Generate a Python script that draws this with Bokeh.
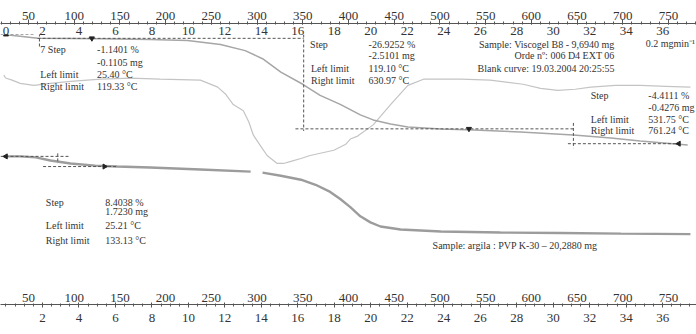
import math
from bokeh.plotting import figure
from bokeh.models import Range1d, LinearAxis, FixedTicker, Label, ColumnDataSource
from bokeh.embed import file_html
from bokeh.resources import INLINE

nan = float("nan")

# ---- TGA, Viscogel B8: sample temperature (°C) and residual mass (%)
b8_temp = [25, 41, 60, 129, 183, 224, 260, 287, 306, 326, 350, 369, 391, 413,
           427, 446, 465, 501, 537, 588, 646, 687, 719, 771]
b8_mass = [99.9, 99.5, 98.9, 98.7, 98.5, 98.2, 97.0, 95.2, 92.8, 88.8, 85.2, 81.9,
           79.2, 76.1, 74.6, 73.4, 72.5, 71.9, 71.6, 71.0, 70.1, 69.2, 68.3, 67.1]

# ---- DTG, Viscogel B8: mass change rate (mg/min)
dtg_temp = [23, 25, 32, 41, 56, 74, 96, 129, 162, 194, 238, 257, 266, 274, 285,
            291, 296, 304, 311, 322, 329, 337, 348, 358, 384, 397, 402, 410, 427,
            446, 465, 482, 501, 523, 555, 591, 610, 629, 648, 665, 692, 719, 747, 774]
dtg_rate = [0.007, -0.003, -0.010, -0.021, -0.028, -0.021, -0.014, -0.007, -0.003,
            -0.007, -0.010, -0.034, -0.059, -0.093, -0.114, -0.152, -0.197, -0.234,
            -0.266, -0.293, -0.293, -0.286, -0.276, -0.266, -0.248, -0.228, -0.210,
            -0.200, -0.162, -0.093, -0.028, -0.007, -0.007, -0.007, -0.010, -0.024,
            -0.038, -0.045, -0.041, -0.034, -0.028, -0.028, -0.031, -0.034]

# ---- TGA, argila : PVP K-30 (the nan breaks the trace where the record is missing)
arg_temp = [25, 41, 58, 74, 96, 123, 147, 183, 238, 293, nan, 306, 326, 348, 364,
            380, 391, 402, 413, 424, 435, 457, 501, 566, 632, 698, 774]
arg_mass = [100.0, 100.0, 99.2, 96.6, 94.1, 92.4, 91.6, 90.8, 89.1, 87.4, nan, 86.6,
            84.0, 80.7, 76.5, 70.6, 64.7, 58.0, 50.4, 45.4, 42.0, 39.5, 37.8, 37.0,
            36.6, 36.1, 35.7]

# ---- evaluated steps
b8_step_pct = [-1.1401, -26.9252, -4.4111]
b8_step_mg = [-0.1105, -2.5101, -0.4276]
b8_left = [25.40, 119.10, 531.75]
b8_right = [119.33, 630.97, 761.24]
b8_step_mid = [62, 351, 646]          # where each step's vertical construction line sits

arg_step_pct = 8.4038
arg_step_mg = 1.7230
arg_left = 25.21
arg_right = 133.13
arg_step_mid = 82

# ---- axis ticks
temp_ticks = list(range(50, 751, 50))
temp_minor = list(range(20, 781, 10))
time_ticks_top = list(range(0, 37, 2))
time_ticks_bottom = list(range(2, 37, 2))
time_minor = [i * 0.5 for i in range(0, 76)]

# ---- layout of the canvas
W, H = 696, 334
FRAME_TOP, FRAME_BOTTOM = 38, 292
DEG_PER_PX = 1 / 0.9143
T_LEFT = 19.4
T_RIGHT = T_LEFT + W * DEG_PER_PX
T_START, HEAT_RATE = 25.4, 19.95      # °C at t = 0, K/min


def vertical_range(ref_value, ref_row, px_per_unit):
    """Range whose value ref_value sits on canvas row ref_row."""
    start = ref_value - (FRAME_BOTTOM - ref_row) / px_per_unit
    end = ref_value + (ref_row - FRAME_TOP) / px_per_unit
    return Range1d(start, end)


SERIF = "Liberation Serif"
INK = "#333333"

p = figure(width=W, height=H, output_backend="svg", toolbar_location=None,
           x_range=Range1d(T_LEFT, T_RIGHT),
           y_range=vertical_range(100, 38, 3.31),
           x_axis_location=None, y_axis_location=None,
           min_border_left=0, min_border_right=0,
           min_border_top=0, min_border_bottom=H - FRAME_BOTTOM,
           outline_line_color=None, background_fill_color="white")
p.extra_x_ranges = {"time": Range1d((T_LEFT - T_START) / HEAT_RATE,
                                    (T_RIGHT - T_START) / HEAT_RATE)}
p.extra_y_ranges = {"dtg": vertical_range(0.0, 80, 290),
                    "arg": vertical_range(100, 158, 1.19)}
for g in p.grid:
    g.visible = False


def axis(**kw):
    base = dict(major_label_text_font=SERIF, major_label_text_font_size="13px",
                major_label_text_color=INK, major_label_standoff=0,
                axis_line_color="#555555", major_tick_line_color="#555555",
                minor_tick_line_color="#555555")
    base.update(kw)
    return LinearAxis(**base)


bare = dict(axis_line_color=None, major_tick_line_color=None, minor_tick_line_color=None,
            major_tick_in=0, major_tick_out=0, minor_tick_in=0, minor_tick_out=0)

# top: time labels next to the plot, temperature scale above them;
# the blank title of the temperature axis leaves a margin along the top edge
p.add_layout(axis(x_range_name="time", ticker=FixedTicker(ticks=time_ticks_top), **bare), "above")
p.add_layout(axis(ticker=FixedTicker(ticks=temp_ticks, minor_ticks=temp_minor),
                  major_tick_out=4, major_tick_in=1, minor_tick_out=2, minor_tick_in=1,
                  axis_label=" ", axis_label_text_font_size="4px", axis_label_standoff=0),
             "above")
# bottom: temperature labels above the line, time labels below it
p.add_layout(axis(ticker=FixedTicker(ticks=temp_ticks), major_label_standoff=1, **bare), "below")
p.add_layout(axis(x_range_name="time", ticker=FixedTicker(ticks=time_ticks_bottom, minor_ticks=time_minor),
                  major_tick_out=3, major_tick_in=2, minor_tick_out=2, minor_tick_in=1,
                  major_label_standoff=6), "below")

# ---- curves
p.line(dtg_temp, dtg_rate, y_range_name="dtg", line_color="#c4c4c4", line_width=1.2)
p.line(b8_temp, b8_mass, line_color="#a6a6a6", line_width=1.5)
p.line(arg_temp, arg_mass, y_range_name="arg", line_color="#9c9c9c", line_width=2.4)

# ---- step construction lines
lv = [100.0]
for s in b8_step_pct:
    lv.append(lv[-1] + s)
dash = dict(line_color="#555555", line_width=1, line_dash="3 2")
b8_seg = ColumnDataSource(dict(
    x0=[T_LEFT, b8_step_mid[0], 60, b8_step_mid[1], 342, b8_step_mid[2], 640],
    y0=[lv[0], 100.3, lv[1], 101.5, lv[2], 73.7, lv[3]],
    x1=[56, b8_step_mid[0], b8_step_mid[1], b8_step_mid[1], b8_step_mid[2], b8_step_mid[2], 760],
    y1=[lv[0], 96.4, lv[1], 71.3, lv[2], 66.2, lv[3]],
))
p.segment("x0", "y0", "x1", "y1", source=b8_seg, **dash)

arg_lv = [100.0, 100.0 - arg_step_pct]
arg_seg = ColumnDataSource(dict(
    x0=[T_LEFT, arg_step_mid, 66],
    y0=[arg_lv[0], 102.5, arg_lv[1]],
    x1=[94, arg_step_mid, 148],
    y1=[arg_lv[0], 94.1, arg_lv[1]],
))
p.segment("x0", "y0", "x1", "y1", source=arg_seg, y_range_name="arg", **dash)

# limit markers
p.scatter([b8_left[0], b8_right[0], b8_left[2], b8_right[2]], [lv[0], lv[1], lv[2], lv[3]],
          marker="triangle", size=5, angle=[0, math.pi, math.pi, math.pi / 2],
          color="#222222")
p.scatter([arg_left, arg_right], arg_lv, y_range_name="arg", marker="triangle", size=5,
          angle=[math.pi / 2, -math.pi / 2], color="#222222")


# ---- annotations
def note(x, y, text, rng="default", align="left", size="10px"):
    p.add_layout(Label(x=x, y=y, y_range_name=rng, text=text, text_font=SERIF,
                       text_font_size=size, text_color=INK, text_baseline="middle",
                       text_align=align))


def fmt(v, unit):
    return f"{v:.4f} {unit}"


# step 1
note(63, 95.5, "7 Step")
note(125, 95.5, fmt(b8_step_pct[0], "%"))
note(125, 91.8, fmt(b8_step_mg[0], "mg"))
note(63, 88.2, "Left limit")
note(125, 88.2, f"{b8_left[0]:.2f} °C")
note(63, 84.6, "Right limit")
note(125, 84.6, f"{b8_right[0]:.2f} °C")

# step 2
note(358, 97.1, "Step")
note(422, 97.1, fmt(b8_step_pct[1], "%"))
note(422, 93.8, fmt(b8_step_mg[1], "mg"))
note(359, 89.9, "Left limit")
note(422, 89.9, f"{b8_left[1]:.2f} °C")
note(359, 86.4, "Right limit")
note(422, 86.4, f"{b8_right[1]:.2f} °C")

# step 3
note(665, 81.9, "Step")
note(728, 81.9, fmt(b8_step_pct[2], "%"))
note(728, 78.3, fmt(b8_step_mg[2], "mg"))
note(665, 74.6, "Left limit")
note(728, 74.6, f"{b8_left[2]:.2f} °C")
note(665, 71.3, "Right limit")
note(728, 71.3, f"{b8_right[2]:.2f} °C")

# sample header
note(691, 97.1, "Sample: Viscogel B8 - 9,6940 mg", align="right")
note(691, 93.8, "Orde nº: 006 D4 EXT 06", align="right")
note(691, 89.9, "Blank curve: 19.03.2004 20:25:55", align="right")
note(725, 97.3, "0.2 mgmin\u207b\u00b9")

# argila step
note(69, 62.2, "Step", rng="arg")
note(134, 62.2, fmt(arg_step_pct, "%"), rng="arg")
note(134, 54.6, fmt(arg_step_mg, "mg"), rng="arg")
note(69, 42.9, "Left limit", rng="arg")
note(134, 42.9, f"{arg_left:.2f} °C", rng="arg")
note(69, 30.3, "Right limit", rng="arg")
note(134, 30.3, f"{arg_right:.2f} °C", rng="arg")
note(492, 26.0, "Sample: argila : PVP K-30 \u2013 20,2880 mg", rng="arg")

open("out.html", "w").write(file_html(p, INLINE))
